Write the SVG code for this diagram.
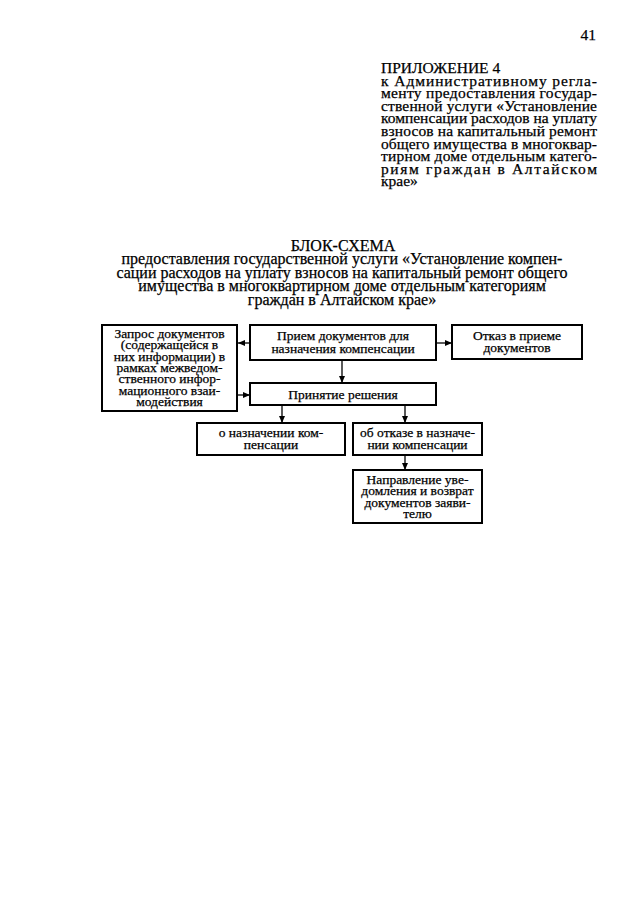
<svg xmlns="http://www.w3.org/2000/svg" width="640" height="905" viewBox="0 0 640 905">
<defs>
<marker id="ah" markerWidth="8" markerHeight="8" refX="7" refY="4" orient="auto" markerUnits="userSpaceOnUse">
<path d="M0,1 L7,4 L0,7 Z" fill="#000"/>
</marker>
<style>
text{font-family:"Liberation Serif","Times New Roman",serif;fill:#000;stroke:#000;stroke-width:0.25}
.hd{font-size:15.5px}
.ti{font-size:16px;text-anchor:middle}
.bx{font-size:13.5px;text-anchor:middle}
.box{fill:#fff;stroke:#000;stroke-width:2}
.cn{fill:none;stroke:#000;stroke-width:1.3;marker-end:url(#ah)}
</style>
</defs>
<rect width="640" height="905" fill="#fff"/>
<g id="header">
<text class="hd" x="596" y="40" text-anchor="end">41</text>
<text class="hd" x="381" y="73" font-size="16.5">ПРИЛОЖЕНИЕ 4</text>
<text class="hd" x="381" y="85.6" textLength="216" lengthAdjust="spacing">к Административному регла-</text>
<text class="hd" x="381" y="98.2" textLength="216" lengthAdjust="spacing">менту предоставления государ-</text>
<text class="hd" x="381" y="110.8" textLength="216" lengthAdjust="spacing">ственной услуги «Установление</text>
<text class="hd" x="381" y="123.4" textLength="216" lengthAdjust="spacing">компенсации расходов на уплату</text>
<text class="hd" x="381" y="136" textLength="216" lengthAdjust="spacing">взносов на капитальный ремонт</text>
<text class="hd" x="381" y="148.6" textLength="216" lengthAdjust="spacing">общего имущества в многоквар-</text>
<text class="hd" x="381" y="161.2" textLength="216" lengthAdjust="spacing">тирном доме отдельным катего-</text>
<text class="hd" x="381" y="173.8" textLength="216" lengthAdjust="spacing">риям граждан в Алтайском</text>
<text class="hd" x="381" y="186.4">крае»</text>
</g>
<g id="title">
<text class="ti" x="343" y="251" font-size="16.5">БЛОК-СХЕМА</text>
<text class="ti" x="342" y="264">предоставления государственной услуги «Установление компен-</text>
<text class="ti" x="342" y="277.5">сации расходов на уплату взносов на капитальный ремонт общего</text>
<text class="ti" x="342" y="291">имущества в многоквартирном доме отдельным категориям</text>
<text class="ti" x="342" y="304.5">граждан в Алтайском крае»</text>
</g>
<g id="connectors">
<path class="cn" d="M250,343 H238"/>
<path class="cn" d="M436,343 H452"/>
<path class="cn" d="M342,360 V383"/>
<path class="cn" d="M237,395 H250"/>
<path class="cn" d="M282,405 V423"/>
<path class="cn" d="M405,405 V423"/>
<path class="cn" d="M405,455 V470"/>
</g>
<g id="n-request">
<rect class="box" x="102" y="325" width="135" height="86"/>
<text class="bx" x="169.5" y="338">Запрос документов</text>
<text class="bx" x="169.5" y="349.3">(содержащейся в</text>
<text class="bx" x="169.5" y="360.6">них информации) в</text>
<text class="bx" x="169.5" y="371.9">рамках межведом-</text>
<text class="bx" x="169.5" y="383.2">ственного инфор-</text>
<text class="bx" x="169.5" y="394.5">мационного взаи-</text>
<text class="bx" x="169.5" y="405.8">модействия</text>
</g>
<g id="n-receive">
<rect class="box" x="250" y="325" width="186" height="35"/>
<text class="bx" x="343" y="340">Прием документов для</text>
<text class="bx" x="343" y="353">назначения компенсации</text>
</g>
<g id="n-refuse-accept">
<rect class="box" x="452" y="325" width="130" height="34"/>
<text class="bx" x="517" y="340">Отказ в приеме</text>
<text class="bx" x="517" y="352">документов</text>
</g>
<g id="n-decision">
<rect class="box" x="250" y="383" width="186" height="22"/>
<text class="bx" x="343" y="399">Принятие решения</text>
</g>
<g id="n-assign">
<rect class="box" x="197" y="423" width="148" height="32"/>
<text class="bx" x="271" y="437">о назначении ком-</text>
<text class="bx" x="271" y="449">пенсации</text>
</g>
<g id="n-deny">
<rect class="box" x="353" y="423" width="129" height="32"/>
<text class="bx" x="417.5" y="437">об отказе в назначе-</text>
<text class="bx" x="417.5" y="449">нии компенсации</text>
</g>
<g id="n-notify">
<rect class="box" x="353" y="470" width="129" height="53"/>
<text class="bx" x="417.5" y="484">Направление уве-</text>
<text class="bx" x="417.5" y="495.3">домления и возврат</text>
<text class="bx" x="417.5" y="506.6">документов заяви-</text>
<text class="bx" x="417.5" y="517.9">телю</text>
</g>
</svg>
